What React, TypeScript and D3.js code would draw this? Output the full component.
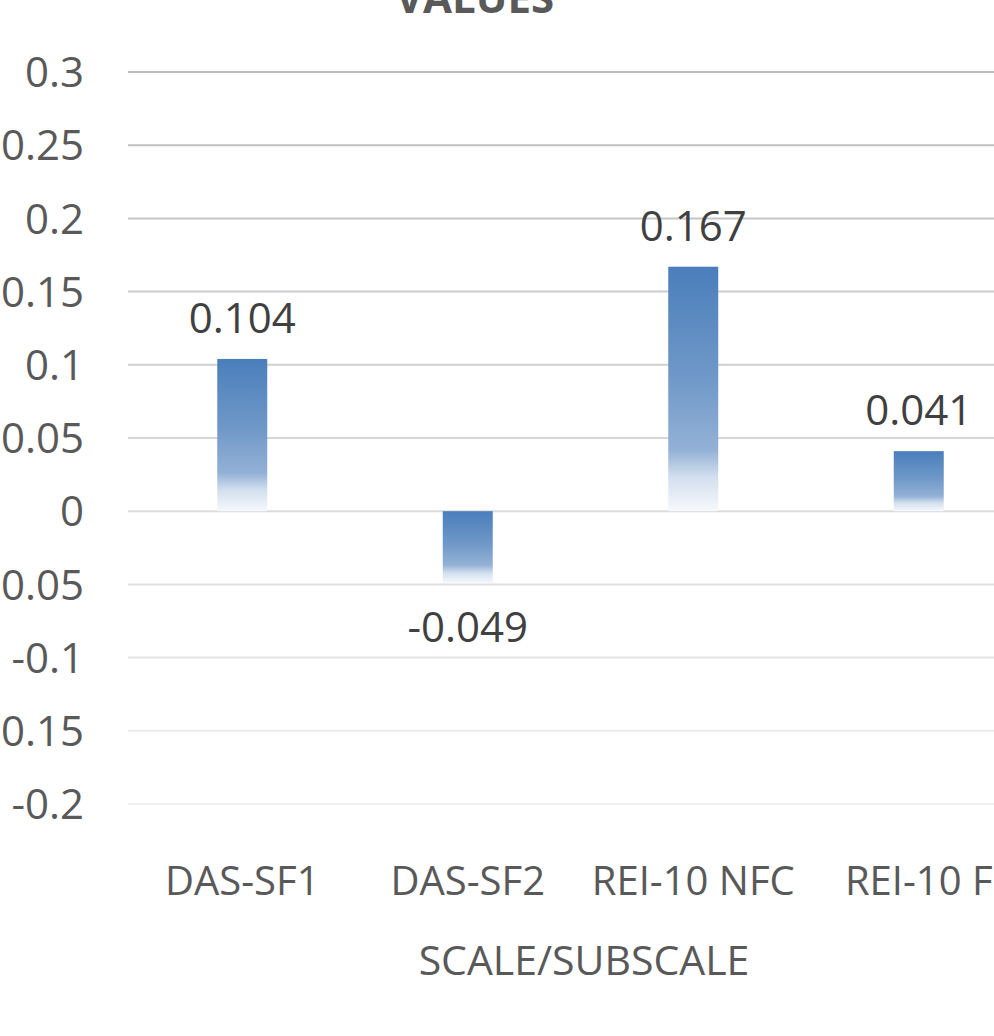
import React, { useEffect, useRef } from 'react';
import * as d3 from 'd3';

const categories = ['DAS-SF1', 'DAS-SF2', 'REI-10 NFC', 'REI-10 F'];
const values = [0.104, -0.049, 0.167, 0.041];
const yTicks = [0.3, 0.25, 0.2, 0.15, 0.1, 0.05, 0, -0.05, -0.1, -0.15, -0.2];
const chartTitle = 'VALUES';
const xTitle = 'SCALE/SUBSCALE';

const App: React.FC = () => {
    const chartRef = useRef<SVGSVGElement>(null);

    useEffect(() => {
        const svg = d3.select(chartRef.current);
        svg.selectAll("*").remove();

        const font = "'Open Sans', sans-serif";
        const left = 128;

        const x = d3.scalePoint<string>().domain(categories).range([129.5, 1031.5]).padding(0.5);
        const y = d3.scaleLinear().domain([-0.2, 0.3]).range([804, 72]);
        const barWidth = 50;

        // bar fill: blue at the top fading to white at the bottom
        const defs = svg.append("defs");
        const grad = defs.append("linearGradient")
            .attr("id", "barGrad")
            .attr("x1", 0).attr("y1", 0).attr("x2", 0).attr("y2", 1);
        grad.append("stop").attr("offset", "0%").attr("stop-color", "#4a7ebb");
        grad.append("stop").attr("offset", "45%").attr("stop-color", "#6f98c8");
        grad.append("stop").attr("offset", "75%").attr("stop-color", "#93b1d6");
        grad.append("stop").attr("offset", "86%").attr("stop-color", "#d2dfee");
        grad.append("stop").attr("offset", "100%").attr("stop-color", "#f6f9fc");

        // gridlines get lighter toward the bottom
        const gridColor = d3.interpolateRgb("#bcbcbc", "#f0f0f0");
        svg.append("g")
            .selectAll("line")
            .data(yTicks)
            .enter().append("line")
            .attr("x1", left)
            .attr("x2", 1000)
            .attr("y1", d => y(d))
            .attr("y2", d => y(d))
            .attr("stroke", (d, i) => gridColor(i / (yTicks.length - 1)))
            .attr("stroke-width", 2);

        svg.append("g")
            .selectAll("text")
            .data(yTicks)
            .enter().append("text")
            .attr("x", 84)
            .attr("y", d => y(d))
            .attr("dy", "0.36em")
            .attr("text-anchor", "end")
            .attr("font-family", font)
            .attr("font-size", 42)
            .attr("fill", "#595959")
            .text(d => String(d));

        const bars = categories.map((c, i) => ({ c, v: values[i] }));

        svg.append("g")
            .selectAll("rect")
            .data(bars)
            .enter().append("rect")
            // @ts-ignore
            .attr("x", d => x(d.c) - barWidth / 2)
            .attr("width", barWidth)
            .attr("y", d => y(Math.max(0, d.v)))
            .attr("height", d => Math.abs(y(d.v) - y(0)))
            .attr("fill", "url(#barGrad)");

        svg.append("g")
            .selectAll("text")
            .data(bars)
            .enter().append("text")
            // @ts-ignore
            .attr("x", d => x(d.c))
            .attr("y", d => d.v >= 0 ? y(d.v) - 26 : y(d.v) + 59)
            .attr("text-anchor", "middle")
            .attr("font-family", font)
            .attr("font-size", 42)
            .attr("fill", "#404040")
            .text(d => String(d.v));

        // category labels: a touch smaller so "REI-10 F" fits like in the original
        svg.append("g")
            .selectAll("text")
            .data(categories)
            .enter().append("text")
            // @ts-ignore
            .attr("x", d => x(d))
            .attr("y", 895)
            .attr("text-anchor", "middle")
            .attr("font-family", font)
            .attr("font-size", 40)
            .attr("fill", "#595959")
            .text(d => d);

        svg.append("text")
            .attr("x", 584)
            .attr("y", 975)
            .attr("text-anchor", "middle")
            .attr("font-family", font)
            .attr("font-size", 41)
            .attr("fill", "#595959")
            .text(xTitle);

        svg.append("text")
            .attr("x", 475)
            .attr("y", 13)
            .attr("text-anchor", "middle")
            .attr("font-family", font)
            .attr("font-size", 42)
            .attr("font-weight", "bold")
            .attr("fill", "#595959")
            .text(chartTitle);
    }, []);

    return (
        <svg ref={chartRef} width="994" height="1036"
            style={{ position: 'absolute', left: 0, top: 0, background: '#fff' }}></svg>
    );
};

export default App;
